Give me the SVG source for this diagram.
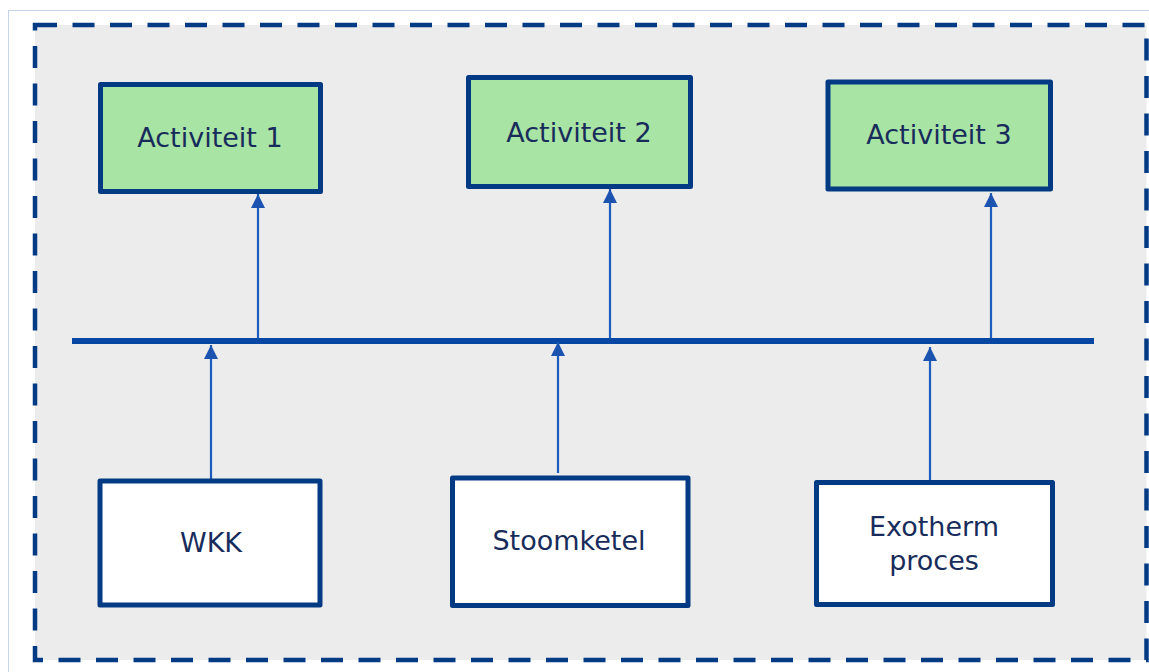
<svg xmlns="http://www.w3.org/2000/svg" width="1149" height="672" viewBox="0 0 1149 672">
<defs>
<style>
.box{stroke:#033a84;stroke-width:5;stroke-linejoin:round}
.act{fill:#a8e4a4}
.src{fill:#ffffff}
.lbl{font-family:"DejaVu Sans",Verdana,sans-serif;font-size:27px;fill:#182c5c;text-anchor:middle}
.conn{stroke:#1c5cbf;stroke-width:2.2;fill:none}
</style>
<marker id="ah" viewBox="0 0 14 14" refX="14" refY="7" markerWidth="14" markerHeight="14" markerUnits="userSpaceOnUse" orient="auto">
<path d="M0,0 L14,7 L0,14 Z" fill="#1c52b0"/>
</marker>
</defs>
<rect x="0" y="0" width="1149" height="672" fill="#ffffff"/>
<rect x="8.5" y="10.5" width="1150" height="670" fill="none" stroke="#8fa8d8" stroke-width="1" stroke-dasharray="1 1"/>
<rect id="frame" x="35" y="25" width="1111.5" height="635" fill="#ececec" stroke="#033a84" stroke-width="4.5" stroke-dasharray="22 15.5"/>
<g id="connectors">
<line x1="72" y1="341" x2="1094" y2="341" stroke="#0647a3" stroke-width="6"/>
<line class="conn" x1="258" y1="338" x2="258" y2="194" marker-end="url(#ah)"/>
<line class="conn" x1="610" y1="338" x2="610" y2="189" marker-end="url(#ah)"/>
<line class="conn" x1="991" y1="338" x2="991" y2="193" marker-end="url(#ah)"/>
<line class="conn" x1="211" y1="479" x2="211" y2="345" marker-end="url(#ah)"/>
<line class="conn" x1="558" y1="473" x2="558" y2="342" marker-end="url(#ah)"/>
<line class="conn" x1="930" y1="480" x2="930" y2="347" marker-end="url(#ah)"/>
</g>
<g id="act1"><rect class="box act" x="100.5" y="84.5" width="220" height="107"/><text class="lbl" x="210" y="147">Activiteit 1</text></g>
<g id="act2"><rect class="box act" x="468.5" y="77.5" width="222" height="109"/><text class="lbl" x="579" y="142">Activiteit 2</text></g>
<g id="act3"><rect class="box act" x="828" y="82" width="222.5" height="107"/><text class="lbl" x="939" y="144">Activiteit 3</text></g>
<g id="wkk"><rect class="box src" x="100" y="481" width="220" height="124"/><text class="lbl" x="211" y="552">WKK</text></g>
<g id="stoomketel"><rect class="box src" x="452.5" y="478" width="235.5" height="127.5"/><text class="lbl" x="569" y="550">Stoomketel</text></g>
<g id="exotherm"><rect class="box src" x="816.5" y="482.5" width="236" height="122"/><text class="lbl" x="934" y="536">Exotherm</text><text class="lbl" x="934" y="570">proces</text></g>
</svg>
